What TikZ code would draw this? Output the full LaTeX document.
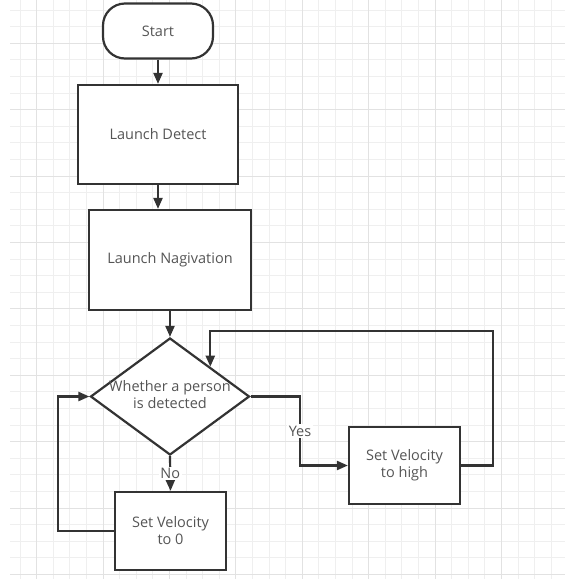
\documentclass[tikz,border=0pt]{standalone}
\usepackage{fontspec}
\setmainfont{Open Sans}
\usetikzlibrary{arrows.meta,shapes.geometric}

\definecolor{gridminor}{HTML}{EFEFEF}
\definecolor{gridmajor}{HTML}{E2E2E2}
\definecolor{inkline}{HTML}{333333}
\definecolor{inktext}{HTML}{555555}

\tikzset{
    flowbox/.style={draw=inkline, line width=2.2pt, fill=white, text=inktext, align=center, inner sep=0pt},
    terminal/.style={flowbox, rounded corners=22pt},
    decision/.style={draw=inkline, line width=2.2pt, fill=white, diamond, inner sep=0pt},
    flowtext/.style={text=inktext, align=center, inner sep=0pt},
    flowline/.style={draw=inkline, line width=2.2pt, ->},
    branch/.style={fill=white, text=inktext, inner sep=1.5pt}
}

\begin{document}
\begin{tikzpicture}[x=1pt, y=-1pt, >={Triangle[length=11pt,width=9pt]}, font=\fontsize{14.5}{17}\selectfont]
        \useasboundingbox (0,0) rectangle (565,579);
        \fill[white] (0,0) rectangle (565,579);

        % Background grid
        \begin{scope}
            \clip (10,0) rectangle (565,579);
            \foreach \k in {0,...,32} {
                \pgfmathsetmacro{\gx}{20+16.6*\k}
                \draw[gridminor, line width=1pt] (\gx,0) -- (\gx,579);
            }
            \foreach \k in {0,...,34} {
                \pgfmathsetmacro{\gy}{10+16.6*\k}
                \draw[gridminor, line width=1pt] (10,\gy) -- (565,\gy);
            }
            \foreach \k in {1,5,...,29} {
                \pgfmathsetmacro{\gx}{20+16.6*\k}
                \draw[gridmajor, line width=1pt] (\gx,0) -- (\gx,579);
            }
            \foreach \k in {2,6,...,34} {
                \pgfmathsetmacro{\gy}{10+16.6*\k}
                \draw[gridmajor, line width=1pt] (10,\gy) -- (565,\gy);
            }
        \end{scope}

        % Main column
        \node[terminal, minimum width=110pt, minimum height=55pt] (start) at (158,31) {Start};
        \node[flowbox, minimum width=160pt, minimum height=99pt] (detect) at (158,134.5) {Launch Detect};
        \node[flowbox, minimum width=162pt, minimum height=100pt] (nav) at (170,260) {Launch Nagivation};

        % Decision diamond and its text
        \node[decision, minimum width=159pt, minimum height=117pt] (decide) at (170,396.5) {};
        \node[flowtext] (ask) at (170,395) {Whether a person\\is detected};

        % Branch boxes
        \node[flowbox, minimum width=111pt, minimum height=77pt] (high) at (404.5,465.5) {Set Velocity\\to high};
        \node[flowbox, minimum width=111pt, minimum height=78pt] (zero) at (170.5,531) {Set Velocity\\to 0};

        % Straight arrows down the column
        \draw[flowline] (start.south) -- (detect.north);
        \draw[flowline] (detect.south) -- (detect.south |- nav.north);
        \draw[flowline] (nav.south) -- (decide.north);

        % Yes branch and the loop back
        \coordinate (yesbend) at (300,396.5);
        \coordinate (looptop) at (493,331);
        \draw[flowline] (decide.east) -- (yesbend) |- node[branch, pos=0.25] {Yes} (high.west);
        \draw[flowline] (high.east) -| (looptop) -| (decide.north east);

        % No branch and the loop back
        \coordinate (zeroleft) at (58,531);
        \draw[flowline] (decide.south) -- node[branch] {No} (zero.north);
        \draw[flowline] (zero.west) -- (zeroleft) |- (decide.west);
    \end{tikzpicture}
\end{document}
